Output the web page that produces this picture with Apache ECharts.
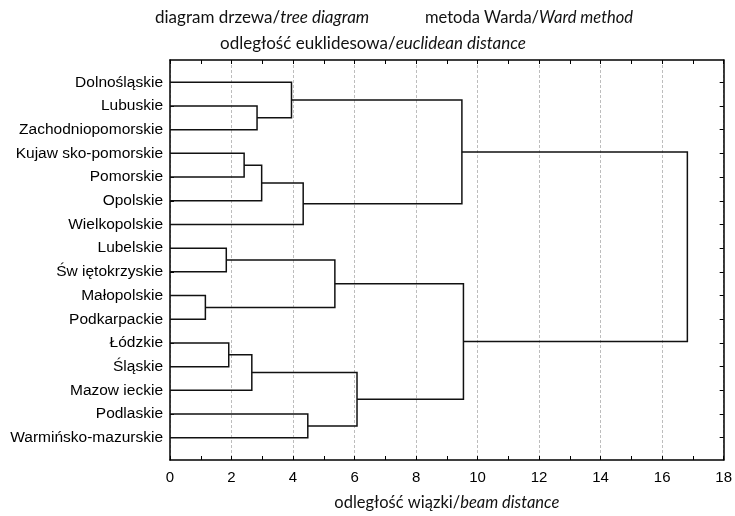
<!DOCTYPE html>
<html>
<head>
<meta charset="utf-8">
<script src="https://cdn.jsdelivr.net/npm/echarts@6/dist/echarts.min.js"></script>
<style>html,body{margin:0;padding:0;background:#fff}#c{width:735px;height:516px}</style>
</head>
<body>
<div id="c"></div>
<script>
// Leaves (top to bottom)
var categories = ['Dolnośląskie','Lubuskie','Zachodniopomorskie','Kujaw sko-pomorskie','Pomorskie','Opolskie','Wielkopolskie','Lubelskie','Św iętokrzyskie','Małopolskie','Podkarpackie','Łódzkie','Śląskie','Mazow ieckie','Podlaskie','Warmińsko-mazurskie'];
// Linkage: node ids 0..15 are leaves, merge k creates node 16+k
var linkA = [9, 7, 11, 3, 18, 1, 19, 0, 22, 14, 17, 20, 23, 26, 28];
var linkB = [10, 8, 12, 4, 13, 2, 5, 21, 6, 15, 16, 25, 24, 27, 29];
var linkDist = [1.15, 1.83, 1.91, 2.41, 2.66, 2.83, 2.98, 3.95, 4.33, 4.48, 5.36, 6.08, 9.49, 9.54, 16.82];
var xTicks = [0, 2, 4, 6, 8, 10, 12, 14, 16, 18];

var n = categories.length;
var nodeY = [], nodeH = [];
for (var i = 0; i < n; i++) { nodeY.push(i); nodeH.push(0); }
var series = [];
for (var k = 0; k < linkDist.length; k++) {
  var a = linkA[k], b = linkB[k], h = linkDist[k];
  series.push({
    type: 'line', xAxisIndex: 0, yAxisIndex: 0, showSymbol: false, symbol: 'none', silent: true,
    animation: false,
    lineStyle: { color: '#111', width: 1.5, join: 'miter' },
    data: [[nodeH[a], nodeY[a]], [h, nodeY[a]], [h, nodeY[b]], [nodeH[b], nodeY[b]]]
  });
  nodeY.push((nodeY[a] + nodeY[b]) / 2);
  nodeH.push(h);
}
var rowIdx = categories.map(function (c, i) { return i; });

var titleFont = 'Lato, "Open Sans", sans-serif';
function richOf(size) {
  return {
    n: { fontFamily: titleFont, fontSize: size, fontWeight: 'normal', color: '#111' },
    i: { fontFamily: titleFont, fontSize: size, fontWeight: 'normal', fontStyle: 'italic', color: '#111' }
  };
}
var chart = echarts.init(document.getElementById('c'), null, { renderer: 'canvas' });
chart.setOption({
  backgroundColor: '#fff',
  animation: false,
  title: [
    { text: '{n|diagram drzewa/}{i|tree diagram}', left: 155, top: 9, padding: 0, textStyle: { fontWeight: 'normal', rich: richOf(17) } },
    { text: '{n|metoda Warda/}{i|Ward method}', left: 425, top: 9, padding: 0, textStyle: { fontWeight: 'normal', rich: richOf(16.5) } },
    { text: '{n|odległość euklidesowa/}{i|euclidean distance}', left: 373, top: 35, padding: 0, textAlign: 'center',
      textStyle: { fontWeight: 'normal', rich: richOf(17) } }
  ],
  grid: { left: 170, right: 8, top: 60, bottom: 52, containLabel: false },
  xAxis: [
    { type: 'value', position: 'bottom', min: 0, max: 18, interval: 2,
      axisLine: { show: true, onZero: false, lineStyle: { color: '#000', width: 1.5 } },
      axisTick: { show: true, inside: true, length: 4, lineStyle: { color: '#000' } },
      minorTick: { show: true, splitNumber: 2, length: 4, lineStyle: { color: '#000' } },
      splitLine: { show: true, lineStyle: { color: '#bdbdbd', type: [3, 2], width: 1 } },
      axisLabel: { color: '#000', fontSize: 15, fontFamily: '"Liberation Sans", Arial, sans-serif', margin: 10,
        customValues: xTicks },
      name: '{n|odległość wiązki/}{i|beam distance}', nameLocation: 'middle', nameGap: 34,
      nameTextStyle: { rich: richOf(16.5) }
    },
    { type: 'value', position: 'top', min: 0, max: 18, interval: 2,
      axisLine: { show: true, onZero: false, lineStyle: { color: '#000', width: 1.5 } },
      axisTick: { show: true, inside: true, length: 4, lineStyle: { color: '#000' } },
      minorTick: { show: true, splitNumber: 2, length: 4, lineStyle: { color: '#000' } },
      splitLine: { show: false }, axisLabel: { show: false } }
  ],
  yAxis: [
    { type: 'value', position: 'left', inverse: true, min: -0.94, max: 15.94,
      axisLine: { show: true, onZero: false, lineStyle: { color: '#000', width: 1.5 } },
      axisTick: { show: true, inside: true, length: 4, customValues: rowIdx, lineStyle: { color: '#000' } },
      splitLine: { show: false },
      axisLabel: { customValues: rowIdx, color: '#000', fontSize: 15.5, margin: 7,
        fontFamily: '"Liberation Sans", Arial, sans-serif',
        formatter: function (v) { return categories[Math.round(v)]; } } },
    { type: 'value', position: 'right', inverse: true, min: -0.94, max: 15.94,
      axisLine: { show: true, onZero: false, lineStyle: { color: '#000', width: 1.5 } },
      axisTick: { show: true, inside: true, length: 4, customValues: rowIdx, lineStyle: { color: '#000' } },
      splitLine: { show: false }, axisLabel: { show: false } }
  ],
  series: series
});
</script>
</body>
</html>
